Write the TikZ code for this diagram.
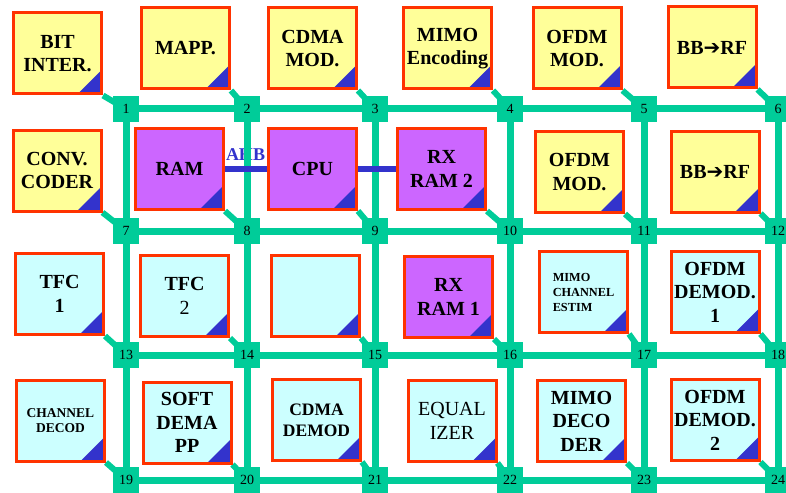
\documentclass[tikz,border=0pt]{standalone}
\usepackage{fontspec}
\setmainfont{Liberation Serif}
\newfontfamily\arrowfont{DejaVu Sans}
\usepackage{tikz}
\usepackage{xcolor}
\usetikzlibrary{backgrounds}
\definecolor{NocRed}{HTML}{FF3300}
\definecolor{NocYellow}{HTML}{FFFF99}
\definecolor{NocPurple}{HTML}{CC66FF}
\definecolor{NocCyan}{HTML}{CCFFFF}
\definecolor{NocBlue}{HTML}{3333CC}
\definecolor{NocGreen}{HTML}{00CC99}
\tikzset{
    % Tile styles
    tile/.style={
        rectangle,
        draw=NocRed,
        line width=3pt,
        minimum width=88pt,
        minimum height=81pt,
        inner sep=1pt,
        align=center,
        font=\fontsize{20}{23.5}\selectfont\bfseries,
        path picture={
            \fill[NocBlue] (path picture bounding box.south east)
                -- ++(-24pt,0pt) -- ++(24pt,24pt) -- cycle;
        }
    },
    txtile/.style={tile, fill=NocYellow},
    cputile/.style={tile, fill=NocPurple},
    rxtile/.style={tile, fill=NocCyan},
    % Router style
    router/.style={
        rectangle,
        fill=NocGreen,
        minimum size=26pt,
        inner sep=0pt,
        font=\fontsize{14}{14}\selectfont
    },
    % Line styles
    gridline/.style={
        draw=NocGreen,
        line width=7pt
    },
    link/.style={
        draw=NocGreen,
        line width=6pt
    },
    bus/.style={
        draw=NocBlue,
        line width=6pt
    },
    buslabel/.style={
        text=NocBlue,
        inner sep=0pt,
        font=\fontsize{18}{18}\selectfont\bfseries
    }
}
\begin{document}
\begin{tikzpicture}[x=1pt, y=-1pt]
    \useasboundingbox (0,0) rectangle (786,492);

    % Transmitter tiles
    \node[txtile] (bitinter) at (57.5,53.5) {BIT\\INTER.};
    \node[txtile] (mapp) at (185.5,48.5) {MAPP.};
    \node[txtile] (cdmamod) at (312.5,48.5) {CDMA\\MOD.};
    \node[txtile] (mimoenc) at (447.5,48.5) {MIMO\\Encoding};
    \node[txtile] (ofdmmod) at (577,48.5) {OFDM\\MOD.};
    \node[txtile] (bbrf) at (712,47.5) {BB{\arrowfont\bfseries ➔}RF};

    \node[txtile] (convcoder) at (57,170.5) {CONV.\\CODER};
    \node[cputile] (ram) at (179.5,169) {RAM};
    \node[cputile] (cpu) at (312.5,169) {CPU};
    \node[cputile] (rxramtwo) at (441.5,169) {RX\\RAM 2};
    \node[txtile] (ofdmmodtwo) at (579.5,172) {OFDM\\MOD.};
    \node[txtile] (bbrftwo) at (715,171.5) {BB{\arrowfont\bfseries ➔}RF};

    % Receiver tiles
    \node[rxtile] (tfcone) at (59.5,294) {TFC\\1};
    \node[rxtile] (tfctwo) at (184.5,296) {TFC\\\mdseries 2};
    \node[rxtile] (spare) at (315.5,296) {};
    \node[cputile] (rxramone) at (448.5,297) {RX\\RAM 1};
    \node[rxtile, align=left, font=\fontsize{12.3}{15}\selectfont\bfseries] (mimoest) at (583.5,292) {MIMO\\CHANNEL\\ESTIM};
    \node[rxtile] (ofdmdemone) at (715,292) {OFDM\\DEMOD.\\1};

    \node[rxtile, font=\fontsize{13.5}{15}\selectfont\bfseries] (chdecod) at (60.5,420.5) {CHANNEL\\DECOD};
    \node[rxtile] (softdemapp) at (187,422.5) {SOFT\\DEMA\\PP};
    \node[rxtile, font=\fontsize{17.5}{21}\selectfont\bfseries] (cdmademod) at (316.5,420) {CDMA\\DEMOD};
    \node[rxtile, font=\fontsize{20}{23.5}\selectfont] (equalizer) at (452,421) {EQUAL\\IZER};
    \node[rxtile] (mimodec) at (581.5,421) {MIMO\\DECO\\DER};
    \node[rxtile] (ofdmdemtwo) at (715,420) {OFDM\\DEMOD.\\2};

    % Routers
    \node[router] (r1) at (126,109) {1};
    \node[router] (r2) at (247,109) {2};
    \node[router] (r3) at (375,109) {3};
    \node[router] (r4) at (510,109) {4};
    \node[router] (r5) at (644,109) {5};
    \node[router] (r6) at (778,109) {6};
    \node[router] (r7) at (126,231) {7};
    \node[router] (r8) at (247,231) {8};
    \node[router] (r9) at (375,231) {9};
    \node[router] (r10) at (510,231) {10};
    \node[router] (r11) at (644,231) {11};
    \node[router] (r12) at (778,231) {12};
    \node[router] (r13) at (126,355) {13};
    \node[router] (r14) at (247,355) {14};
    \node[router] (r15) at (375,355) {15};
    \node[router] (r16) at (510,355) {16};
    \node[router] (r17) at (644,355) {17};
    \node[router] (r18) at (778,355) {18};
    \node[router] (r19) at (126,480) {19};
    \node[router] (r20) at (247,480) {20};
    \node[router] (r21) at (375,480) {21};
    \node[router] (r22) at (510,480) {22};
    \node[router] (r23) at (644,480) {23};
    \node[router] (r24) at (778,480) {24};

    % Mesh links and tile links
    \begin{scope}[on background layer]
        \node[buslabel] (ahb) at (245.5,155) {AHB};

        \draw[gridline] (r1.center) -- (r6.center);
        \draw[gridline] (r7.center) -- (r12.center);
        \draw[gridline] (r13.center) -- (r18.center);
        \draw[gridline] (r19.center) -- (r24.center);
        \draw[gridline] (r1.center) -- (r19.center);
        \draw[gridline] (r2.center) -- (r20.center);
        \draw[gridline] (r3.center) -- (r21.center);
        \draw[gridline] (r4.center) -- (r22.center);
        \draw[gridline] (r5.center) -- (r23.center);
        \draw[gridline] (r6.center) -- (r24.center);

        \draw[link] (bitinter.south east) -- (r1.center);
        \draw[link] (mapp.south east) -- (r2.center);
        \draw[link] (cdmamod.south east) -- (r3.center);
        \draw[link] (mimoenc.south east) -- (r4.center);
        \draw[link] (ofdmmod.south east) -- (r5.center);
        \draw[link] (bbrf.south east) -- (r6.center);
        \draw[link] (convcoder.south east) -- (r7.center);
        \draw[link] (ram.south east) -- (r8.center);
        \draw[link] (cpu.south east) -- (r9.center);
        \draw[link] (rxramtwo.south east) -- (r10.center);
        \draw[link] (ofdmmodtwo.south east) -- (r11.center);
        \draw[link] (bbrftwo.south east) -- (r12.center);
        \draw[link] (tfcone.south east) -- (r13.center);
        \draw[link] (tfctwo.south east) -- (r14.center);
        \draw[link] (spare.south east) -- (r15.center);
        \draw[link] (rxramone.south east) -- (r16.center);
        \draw[link] (mimoest.south east) -- (r17.center);
        \draw[link] (ofdmdemone.south east) -- (r18.center);
        \draw[link] (chdecod.south east) -- (r19.center);
        \draw[link] (softdemapp.south east) -- (r20.center);
        \draw[link] (cdmademod.south east) -- (r21.center);
        \draw[link] (equalizer.south east) -- (r22.center);
        \draw[link] (mimodec.south east) -- (r23.center);
        \draw[link] (ofdmdemtwo.south east) -- (r24.center);
    \end{scope}

    % AHB bus
    \draw[bus] (ram.east) -- (cpu.west);
    \draw[bus] (cpu.east) -- (rxramtwo.west);
\end{tikzpicture}
\end{document}
